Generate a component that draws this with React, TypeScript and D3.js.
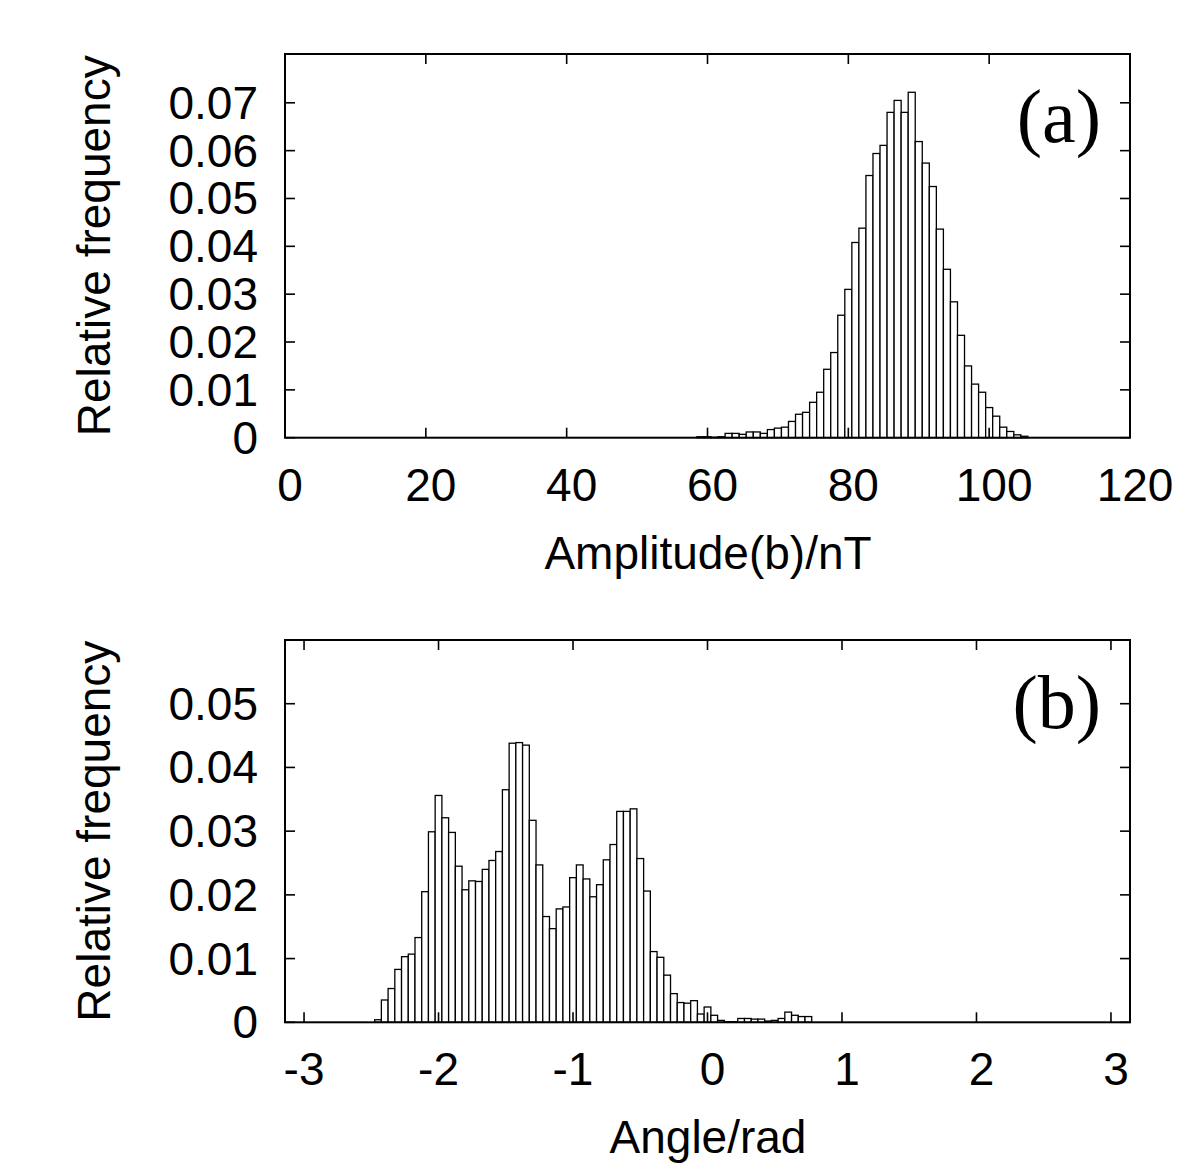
import React from "react";
import * as d3 from "d3";

// ---------- Data ----------
// Panel (a): amplitude histogram, bin width 1 nT (bin centres)
const ampBins = [
  59, 60, 61, 62, 63, 64, 65, 66, 67, 68, 69, 70, 71, 72, 73, 74, 75, 76, 77, 78,
  79, 80, 81, 82, 83, 84, 85, 86, 87, 88, 89, 90, 91, 92, 93, 94, 95, 96, 97, 98,
  99, 100, 101, 102, 103, 104, 105,
];
const ampFreq = [
  0.0002, 0.0002, 0.0001, 0.0002, 0.0009, 0.0009, 0.0007, 0.0012, 0.0012, 0.0009,
  0.0017, 0.002, 0.0022, 0.0034, 0.0049, 0.0053, 0.0074, 0.0095, 0.0143, 0.0178,
  0.0256, 0.031, 0.0408, 0.0438, 0.0548, 0.0594, 0.0611, 0.068, 0.0705, 0.068,
  0.0722, 0.0619, 0.0574, 0.0525, 0.0436, 0.0352, 0.0284, 0.0214, 0.015, 0.0112,
  0.0095, 0.0063, 0.0045, 0.0022, 0.0013, 0.0006, 0.0003,
];
const ampBinWidth = 1;
const ampXTicks = [0, 20, 40, 60, 80, 100, 120];
const ampYTicks = [0, 0.01, 0.02, 0.03, 0.04, 0.05, 0.06, 0.07];
const ampXDomain = [0, 120];
const ampYDomain = [0, 0.0802];

// Panel (b): angle histogram, bin width 0.05 rad (bin centres)
const angleBins = [
  -2.45, -2.4, -2.35, -2.3, -2.25, -2.2, -2.15, -2.1, -2.05, -2.0, -1.95, -1.9,
  -1.85, -1.8, -1.75, -1.7, -1.65, -1.6, -1.55, -1.5, -1.45, -1.4, -1.35, -1.3,
  -1.25, -1.2, -1.15, -1.1, -1.05, -1.0, -0.95, -0.9, -0.85, -0.8, -0.75, -0.7,
  -0.65, -0.6, -0.55, -0.5, -0.45, -0.4, -0.35, -0.3, -0.25, -0.2, -0.15, -0.1,
  -0.05, 0.0, 0.05, 0.1, 0.15, 0.2, 0.25, 0.3, 0.35, 0.4, 0.45, 0.5, 0.55, 0.6,
  0.65, 0.7, 0.75,
];
const angleFreq = [
  0.0004, 0.0035, 0.0053, 0.0083, 0.0103, 0.0107, 0.0133, 0.0205, 0.0299, 0.0356,
  0.0321, 0.0298, 0.0245, 0.0208, 0.0222, 0.0221, 0.024, 0.0254, 0.0268, 0.0365,
  0.0438, 0.0439, 0.0435, 0.0317, 0.0247, 0.0166, 0.0147, 0.0178, 0.0181, 0.0227,
  0.0247, 0.0225, 0.0197, 0.0216, 0.0255, 0.0279, 0.0331, 0.0331, 0.0335, 0.0257,
  0.0206, 0.0111, 0.0102, 0.0074, 0.0045, 0.0031, 0.003, 0.0034, 0.0013, 0.0024,
  0.0011, 0.0003, 0.0001, 0.0001, 0.0006, 0.0006, 0.0005, 0.0005, 0.0002, 0.0003,
  0.0006, 0.0016, 0.0011, 0.0009, 0.0009,
];
const angleBinWidth = 0.05;
const angleXTicks = [-3, -2, -1, 0, 1, 2, 3];
const angleYTicks = [0, 0.01, 0.02, 0.03, 0.04, 0.05];
const angleXDomain = [-Math.PI, Math.PI];
const angleYDomain = [0, 0.06];

// ---------- Styling ----------
const SANS = "'Liberation Sans', Arial, Helvetica, sans-serif";
const SERIF = "'Liberation Serif', 'Times New Roman', serif";
const FS = 46;

type PanelProps = {
  top: number;
  bottom: number;
  bins: number[];
  freq: number[];
  binWidth: number;
  xDomain: number[];
  yDomain: number[];
  xTicks: number[];
  yTicks: number[];
  xLabel: string;
  tag: string;
  tagY: number;
  yFmt: (v: number) => string;
};

const LEFT = 285;
const RIGHT = 1130;
const TICK = 10;

function Panel(p: PanelProps) {
  const x = d3.scaleLinear().domain(p.xDomain).range([LEFT, RIGHT]);
  const y = d3.scaleLinear().domain(p.yDomain).range([p.bottom, p.top]);
  const midY = (p.top + p.bottom) / 2;
  return (
    <g>
      {/* bars */}
      {p.bins.map((c, i) => {
        const x0 = x(c - p.binWidth / 2);
        const x1 = x(c + p.binWidth / 2);
        const yt = y(p.freq[i]);
        return (
          <rect
            key={i}
            x={x0}
            y={yt}
            width={x1 - x0}
            height={p.bottom - yt}
            fill="#fff"
            stroke="#000"
            strokeWidth={1.3}
          />
        );
      })}
      {/* ticks (mirrored, inward) */}
      {p.xTicks.map((t) => (
        <g key={"xt" + t}>
          <line x1={x(t)} x2={x(t)} y1={p.bottom} y2={p.bottom - TICK} stroke="#000" strokeWidth={1.6} />
          <line x1={x(t)} x2={x(t)} y1={p.top} y2={p.top + TICK} stroke="#000" strokeWidth={1.6} />
          <text
            x={x(t) + (t < 0 ? 0 : 5)}
            y={p.bottom + 63}
            textAnchor="middle"
            fontFamily={SANS}
            fontSize={FS}
            fill="#000"
          >
            {String(t)}
          </text>
        </g>
      ))}
      {p.yTicks.map((t) => (
        <g key={"yt" + t}>
          <line x1={LEFT} x2={LEFT + TICK} y1={y(t)} y2={y(t)} stroke="#000" strokeWidth={1.6} />
          <line x1={RIGHT} x2={RIGHT - TICK} y1={y(t)} y2={y(t)} stroke="#000" strokeWidth={1.6} />
          <text
            x={258}
            y={y(t) + 16}
            textAnchor="end"
            fontFamily={SANS}
            fontSize={FS}
            fill="#000"
          >
            {p.yFmt(t)}
          </text>
        </g>
      ))}
      {/* frame */}
      <rect
        x={LEFT}
        y={p.top}
        width={RIGHT - LEFT}
        height={p.bottom - p.top}
        fill="none"
        stroke="#000"
        strokeWidth={2}
      />
      {/* axis labels */}
      <text
        transform={`translate(110, ${midY}) rotate(-90)`}
        textAnchor="middle"
        fontFamily={SANS}
        fontSize={FS}
        fill="#000"
      >
        Relative frequency
      </text>
      <text
        x={708}
        y={p.bottom + 131}
        textAnchor="middle"
        fontFamily={SANS}
        fontSize={FS}
        fill="#000"
      >
        {p.xLabel}
      </text>
      <text
        x={1101}
        y={p.tagY}
        textAnchor="end"
        fontFamily={SERIF}
        fontSize={76}
        fill="#000"
      >
        {p.tag}
      </text>
    </g>
  );
}

export default function App() {
  const fmt = (v: number) => (v === 0 ? "0" : v.toFixed(2));
  return (
    <svg
      width={1200}
      height={1172}
      viewBox="0 0 1200 1172"
      style={{ position: "absolute", left: 0, top: 0, display: "block", background: "#fff" }}
    >
      <rect x={0} y={0} width={1200} height={1172} fill="#fff" />
      <Panel
        top={54}
        bottom={437.7}
        bins={ampBins}
        freq={ampFreq}
        binWidth={ampBinWidth}
        xDomain={ampXDomain}
        yDomain={ampYDomain}
        xTicks={ampXTicks}
        yTicks={ampYTicks}
        xLabel="Amplitude(b)/nT"
        tag="(a)"
        tagY={142}
        yFmt={fmt}
      />
      <Panel
        top={640}
        bottom={1022.3}
        bins={angleBins}
        freq={angleFreq}
        binWidth={angleBinWidth}
        xDomain={angleXDomain}
        yDomain={angleYDomain}
        xTicks={angleXTicks}
        yTicks={angleYTicks}
        xLabel="Angle/rad"
        tag="(b)"
        tagY={728}
        yFmt={fmt}
      />
    </svg>
  );
}
